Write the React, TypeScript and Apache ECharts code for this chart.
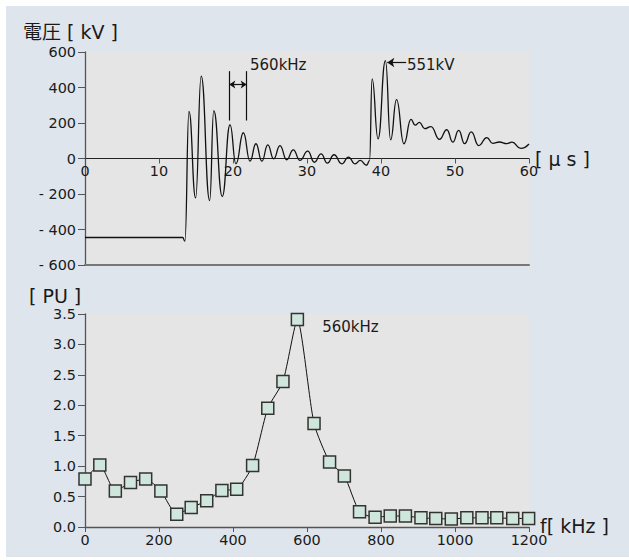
import React, { useEffect, useRef } from 'react';
import * as echarts from 'echarts';

// Upper panel: voltage waveform (time in µs, voltage in kV), read at extrema
const voltTime = [0, 13.2, 13.5, 14.05, 14.95, 15.7, 16.85, 17.4, 18.55, 19.6, 20.4, 21.4, 22.3, 23.1, 23.9, 24.7, 25.5, 26.35, 27.25, 28.15, 29.05, 30.1, 31.0, 31.9, 32.75, 33.65, 34.7, 35.6, 36.5, 37.2, 38.05, 38.45, 38.8, 39.6, 40.6, 41.3, 42.1, 43.1, 44.05, 44.6, 45.2, 45.9, 46.75, 47.9, 48.9, 49.7, 50.5, 51.3, 52.2, 53.2, 54.3, 55.1, 56.0, 57.0, 57.7, 58.9, 60];
const voltKV = [-445, -445, -466, 265, -222, 464, -237, 270, -214, 190, -30, 145, -15, 83, -15, 77, -2, 73, -7, 49, -11, 41, -21, 26, -26, 21, -30, 8, -30, -11, -38, -12, 449, 111, 551, 105, 332, 83, 220, 188, 203, 168, 180, 108, 162, 92, 158, 84, 150, 73, 118, 85, 93, 84, 92, 57, 82];

// Lower panel: spectrum (frequency in kHz, amplitude in PU)
const freqKHz = [0, 40, 82, 123, 164, 205, 248, 287, 329, 370, 410, 453, 494, 535, 574, 619, 661, 701, 742, 784, 825, 866, 908, 948, 990, 1032, 1073, 1113, 1156, 1199];
const ampPU = [0.79, 1.02, 0.59, 0.73, 0.79, 0.59, 0.21, 0.32, 0.43, 0.6, 0.62, 1.01, 1.95, 2.39, 3.41, 1.7, 1.07, 0.84, 0.25, 0.16, 0.18, 0.18, 0.15, 0.14, 0.13, 0.15, 0.15, 0.15, 0.14, 0.14];

const voltTicks = { min: -600, max: 600, interval: 200 };
const timeTicks = { min: 0, max: 60, interval: 10 };
const puTicks = { min: 0, max: 3.5, interval: 0.5 };
const freqTicks = { min: 0, max: 1200, interval: 200 };

const FONT = '"DejaVu Sans", "Noto Sans CJK JP", sans-serif';
const TXT = '#1a1a1a';
const AX = '#555';
const GRID_H = 213;

export default function App() {
  const ref = useRef<HTMLDivElement>(null);
  useEffect(() => {
    if (!ref.current) return;
    const chart = echarts.init(ref.current, null, { renderer: 'svg' });
    const lbl = { fontSize: 14.4, fontFamily: FONT, color: TXT };
    // the time axis sits on the 0 kV line: shift it up from the grid bottom by the 0 position
    const zeroOffset = -GRID_H * (0 - voltTicks.min) / (voltTicks.max - voltTicks.min);
    const option: any = {
      animation: false,
      backgroundColor: 'transparent',
      grid: [
        { left: 85, top: 52, width: 444, height: GRID_H, show: true, backgroundColor: '#e5e5e5', borderWidth: 0 },
        { left: 85, top: 314, width: 444, height: GRID_H, show: true, backgroundColor: '#e5e5e5', borderWidth: 0 },
      ],
      xAxis: [
        {
          type: 'value', gridIndex: 0, ...timeTicks, position: 'bottom', offset: zeroOffset,
          axisLine: { show: true, onZero: false, lineStyle: { color: '#222', width: 1 } },
          axisTick: { show: true, length: 5, lineStyle: { color: AX } },
          axisLabel: { ...lbl, margin: 5, formatter: (v: number) => String(v) },
          splitLine: { show: false },
        },
        {
          type: 'value', gridIndex: 0, ...timeTicks, position: 'bottom', offset: 0,
          axisLine: { show: true, onZero: false, lineStyle: { color: '#777', width: 2 } },
          axisTick: { show: false }, axisLabel: { show: false }, splitLine: { show: false },
        },
        {
          type: 'value', gridIndex: 1, ...freqTicks,
          axisLine: { show: true, onZero: false, lineStyle: { color: AX, width: 1.3 } },
          axisTick: { show: true, length: 5, lineStyle: { color: AX } },
          axisLabel: { ...lbl, margin: 6, formatter: (v: number) => String(v) },
          splitLine: { show: false },
        },
      ],
      yAxis: [
        {
          type: 'value', gridIndex: 0, ...voltTicks,
          axisLine: { show: true, onZero: false, lineStyle: { color: AX, width: 1.3 } },
          axisTick: { show: true, length: 7, lineStyle: { color: AX } },
          axisLabel: { ...lbl, margin: 9, formatter: (v: number) => (v < 0 ? '- ' + Math.abs(v) : String(v)) },
          splitLine: { show: false },
        },
        {
          type: 'value', gridIndex: 1, ...puTicks,
          axisLine: { show: true, onZero: false, lineStyle: { color: AX, width: 1.3 } },
          axisTick: { show: true, length: 7, lineStyle: { color: AX } },
          axisLabel: { ...lbl, margin: 9, formatter: (v: number) => v.toFixed(1) },
          splitLine: { show: false },
        },
      ],
      series: [
        {
          type: 'line', xAxisIndex: 0, yAxisIndex: 0,
          data: voltTime.map((t, i) => [t, voltKV[i]]),
          showSymbol: false, symbol: 'none',
          smooth: 0.5, smoothMonotone: 'x',
          lineStyle: { color: '#111', width: 1.3 },
          markLine: {
            silent: true, symbol: 'none', animation: false,
            label: { show: false },
            lineStyle: { color: '#111', width: 1.2, type: 'solid' },
            data: [
              [{ coord: [19.5, 492] }, { coord: [19.5, 214] }],
              [{ coord: [21.85, 492] }, { coord: [21.85, 214] }],
              [{ coord: [19.5, 417], symbol: 'arrow', symbolSize: 6 }, { coord: [21.85, 417], symbol: 'arrow', symbolSize: 6 }],
              [{ coord: [43.4, 541], symbol: 'none' }, { coord: [40.85, 541], symbol: 'arrow', symbolSize: 7 }],
            ],
          },
        },
        {
          type: 'line', xAxisIndex: 2, yAxisIndex: 1,
          data: freqKHz.map((f, i) => [f, ampPU[i]]),
          smooth: 0.2, clip: false,
          symbol: 'rect', symbolSize: 12,
          itemStyle: { color: '#cfe6dd', borderColor: '#333', borderWidth: 1.5 },
          lineStyle: { color: '#111', width: 1 },
        },
      ],
    };
    chart.setOption(option);

    const px = (g: number, pt: number[]) => chart.convertToPixel({ gridIndex: g }, pt) as number[];
    const txt = (x: number, y: number, text: string, size: number) => ({
      type: 'text', x, y, silent: true,
      style: { text, fontSize: size, fontFamily: FONT, fill: TXT, align: 'left', verticalAlign: 'middle' },
    });
    const topLeft = px(0, [timeTicks.min, voltTicks.max]);
    const zeroEnd = px(0, [timeTicks.max, 0]);
    const botLeft = px(1, [freqTicks.min, puTicks.max]);
    const botEnd = px(1, [freqTicks.max, 0]);
    const a1 = px(0, [22.3, 524]);
    const a2 = px(0, [43.5, 528]);
    const a3 = px(1, [641, 3.29]);
    chart.setOption({
      graphic: [
        txt(topLeft[0] - 62, topLeft[1] - 20, '電圧 [ kV ]', 19),
        txt(zeroEnd[0] + 6, zeroEnd[1], '[ μ s ]', 19),
        txt(botLeft[0] - 56, botLeft[1] - 18, '[ PU ]', 19),
        txt(botEnd[0] + 11, botEnd[1] - 1, 'f[ kHz ]', 19),
        txt(a1[0], a1[1], '560kHz', 15),
        txt(a2[0], a2[1], '551kV', 15),
        txt(a3[0], a3[1], '560kHz', 15),
      ],
    });
    return () => chart.dispose();
  }, []);
  return (
    <div style={{ position: 'fixed', left: 0, top: 0, width: 629, height: 560, background: '#ffffff' }}>
      <div style={{ position: 'absolute', left: 6, top: 6, width: 623, height: 551, background: '#dfe5ec' }} />
      <div ref={ref} style={{ position: 'absolute', left: 0, top: 0, width: 629, height: 560 }} />
    </div>
  );
}
